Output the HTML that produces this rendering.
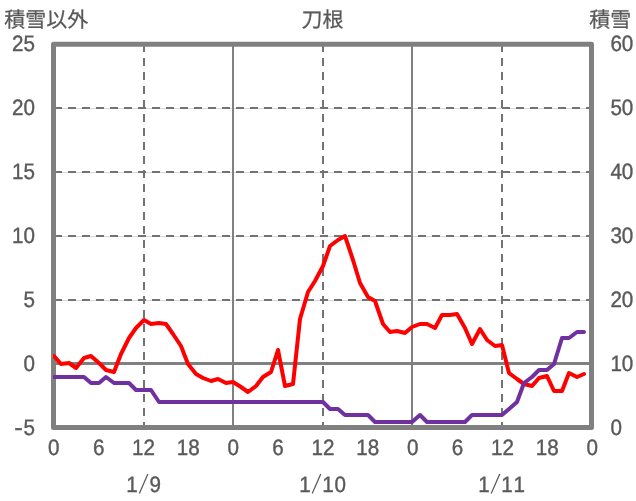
<!DOCTYPE html>
<html lang="ja"><head><meta charset="utf-8"><title>刀根</title>
<style>html,body{margin:0;padding:0;background:#fff;}body{width:636px;height:501px;overflow:hidden;}svg{display:block;}text{font-family:"Liberation Sans",sans-serif;fill:#595959;text-rendering:geometricPrecision;}text.cjk{font-family:"Liberation Sans","Noto Sans CJK JP",sans-serif;}</style></head><body>
<svg width="636" height="501" viewBox="0 0 636 501">
<rect width="636" height="501" fill="#fff"/>
<defs><clipPath id="pa"><rect x="53" y="40" width="541" height="392"/></clipPath></defs>
<g stroke="#d9d9d9" stroke-width="1" shape-rendering="crispEdges">
<line x1="54" x2="591" y1="108.5" y2="108.5"/>
<line x1="54" x2="591" y1="172.5" y2="172.5"/>
<line x1="54" x2="591" y1="236.5" y2="236.5"/>
<line x1="54" x2="591" y1="300.5" y2="300.5"/>
</g>
<g stroke="#737373" stroke-width="2" stroke-dasharray="8 6" shape-rendering="crispEdges">
<line x1="54" x2="591" y1="108" y2="108"/>
<line x1="54" x2="591" y1="172" y2="172"/>
<line x1="54" x2="591" y1="236" y2="236"/>
<line x1="54" x2="591" y1="300" y2="300"/>
<line x1="144" x2="144" y1="44" y2="428"/>
<line x1="323" x2="323" y1="44" y2="428"/>
<line x1="502" x2="502" y1="44" y2="428"/>
</g>
<g stroke="#808080" shape-rendering="crispEdges">
<line x1="233" x2="233" y1="44" y2="428" stroke-width="2"/>
<line x1="412" x2="412" y1="44" y2="428" stroke-width="2"/>
<line x1="54" x2="591" y1="363.5" y2="363.5" stroke-width="3"/>
</g>
<rect x="53.5" y="44.35" width="538" height="383.1" fill="none" stroke="#808080" stroke-width="5" stroke-linejoin="round"/>
<g clip-path="url(#pa)" fill="none" stroke-width="4" stroke-linejoin="round" stroke-linecap="round">
<polyline stroke="#ff0000" points="54,356 61,364 69,363 76,368 84,358 91,356 99,363 106,370 114,372 121,354 129,338 136,328 144,320 151,324 159,323 166,324 173,334 181,346 188,364 196,374 203,378 211,381 218,379 226,383 233,382 241,387 248,392 256,386 263,377 271,372 278,350 285,386 293,384 300,319 308,292 315,281 323,266 330,246 338,240 345,236 353,260 360,283 368,297 375,301 383,324 390,332 397,331 405,333 412,327 420,324 427,324 435,328 442,315 450,315 457,314 465,328 472,344 480,329 487,340 495,346 502,345 509,373 517,379 524,384 532,386 539,378 547,376 554,391 562,391 569,373 577,377 584,374"/>
<polyline stroke="#7030a0" points="54,377 61,377 69,377 76,377 84,377 91,383 99,383 106,377 114,383 121,383 129,383 136,390 144,390 151,390 159,402 166,402 173,402 181,402 188,402 196,402 203,402 211,402 218,402 226,402 233,402 241,402 248,402 256,402 263,402 271,402 278,402 285,402 293,402 300,402 308,402 315,402 323,402 330,409 338,409 345,415 353,415 360,415 368,415 375,422 383,422 390,422 397,422 405,422 412,422 420,415 427,422 435,422 442,422 450,422 457,422 465,422 472,415 480,415 487,415 495,415 502,415 509,409 517,402 524,383 532,377 539,370 547,370 554,364 562,338 569,338 577,332 584,332"/>
</g>
<g font-size="22.3" opacity="0.999" stroke="#595959" stroke-width="0.4">
<text transform="translate(35.00 51.40) scale(0.925 1.000)" text-anchor="end">25</text>
<text transform="translate(35.00 115.40) scale(0.925 1.000)" text-anchor="end">20</text>
<text transform="translate(35.00 179.40) scale(0.925 1.000)" text-anchor="end">15</text>
<text transform="translate(35.00 243.40) scale(0.925 1.000)" text-anchor="end">10</text>
<text transform="translate(35.00 307.40) scale(0.925 1.000)" text-anchor="end">5</text>
<text transform="translate(35.00 371.40) scale(0.925 1.000)" text-anchor="end">0</text>
<text transform="translate(35.00 435.40) scale(0.925 1.000)" text-anchor="end">5</text>
<text transform="translate(22.85 435.40) scale(1.140 1.000)" text-anchor="end">-</text>
<text transform="translate(610.40 51.40) scale(0.925 1.000)" text-anchor="start">60</text>
<text transform="translate(610.40 115.40) scale(0.925 1.000)" text-anchor="start">50</text>
<text transform="translate(610.40 179.40) scale(0.925 1.000)" text-anchor="start">40</text>
<text transform="translate(610.40 243.40) scale(0.925 1.000)" text-anchor="start">30</text>
<text transform="translate(610.40 307.40) scale(0.925 1.000)" text-anchor="start">20</text>
<text transform="translate(610.40 371.40) scale(0.925 1.000)" text-anchor="start">10</text>
<text transform="translate(610.40 435.40) scale(0.925 1.000)" text-anchor="start">0</text>
<text transform="translate(53.75 455.30) scale(0.925 1.000)" text-anchor="middle">0</text>
<text transform="translate(98.62 455.30) scale(0.925 1.000)" text-anchor="middle">6</text>
<text transform="translate(143.48 455.30) scale(0.925 1.000)" text-anchor="middle">12</text>
<text transform="translate(188.35 455.30) scale(0.925 1.000)" text-anchor="middle">18</text>
<text transform="translate(233.22 455.30) scale(0.925 1.000)" text-anchor="middle">0</text>
<text transform="translate(278.08 455.30) scale(0.925 1.000)" text-anchor="middle">6</text>
<text transform="translate(322.95 455.30) scale(0.925 1.000)" text-anchor="middle">12</text>
<text transform="translate(367.82 455.30) scale(0.925 1.000)" text-anchor="middle">18</text>
<text transform="translate(412.68 455.30) scale(0.925 1.000)" text-anchor="middle">0</text>
<text transform="translate(457.55 455.30) scale(0.925 1.000)" text-anchor="middle">6</text>
<text transform="translate(502.42 455.30) scale(0.925 1.000)" text-anchor="middle">12</text>
<text transform="translate(547.28 455.30) scale(0.925 1.000)" text-anchor="middle">18</text>
<text transform="translate(592.15 455.30) scale(0.925 1.000)" text-anchor="middle">0</text>
<text transform="translate(132.10 491.60) scale(0.925 1.000)" text-anchor="middle">1</text>
<line x1="139.35" y1="493.50" x2="147.90" y2="473.90" stroke="#595959" stroke-width="1.25"/>
<text transform="translate(155.20 491.60) scale(0.925 1.000)" text-anchor="middle">9</text>
<text transform="translate(304.95 491.60) scale(0.925 1.000)" text-anchor="middle">1</text>
<line x1="312.20" y1="493.50" x2="320.75" y2="473.90" stroke="#595959" stroke-width="1.25"/>
<text transform="translate(328.05 491.60) scale(0.925 1.000)" text-anchor="middle">1</text>
<text transform="translate(340.35 491.60) scale(0.925 1.000)" text-anchor="middle">0</text>
<text transform="translate(483.95 491.60) scale(0.925 1.000)" text-anchor="middle">1</text>
<line x1="491.20" y1="493.50" x2="499.75" y2="473.90" stroke="#595959" stroke-width="1.25"/>
<text transform="translate(507.05 491.60) scale(0.925 1.000)" text-anchor="middle">1</text>
<text transform="translate(519.35 491.60) scale(0.925 1.000)" text-anchor="middle">1</text>
</g>
<text class="cjk" x="4.3" y="27" font-size="21" text-anchor="start" fill="#595959" stroke="#595959" stroke-width="0.25">積雪以外</text>
<text class="cjk" x="322.5" y="27" font-size="21" text-anchor="middle" fill="#595959" stroke="#595959" stroke-width="0.25">刀根</text>
<text class="cjk" x="589.3" y="27" font-size="21" text-anchor="start" fill="#595959" stroke="#595959" stroke-width="0.25">積雪</text>
</svg></body></html>
